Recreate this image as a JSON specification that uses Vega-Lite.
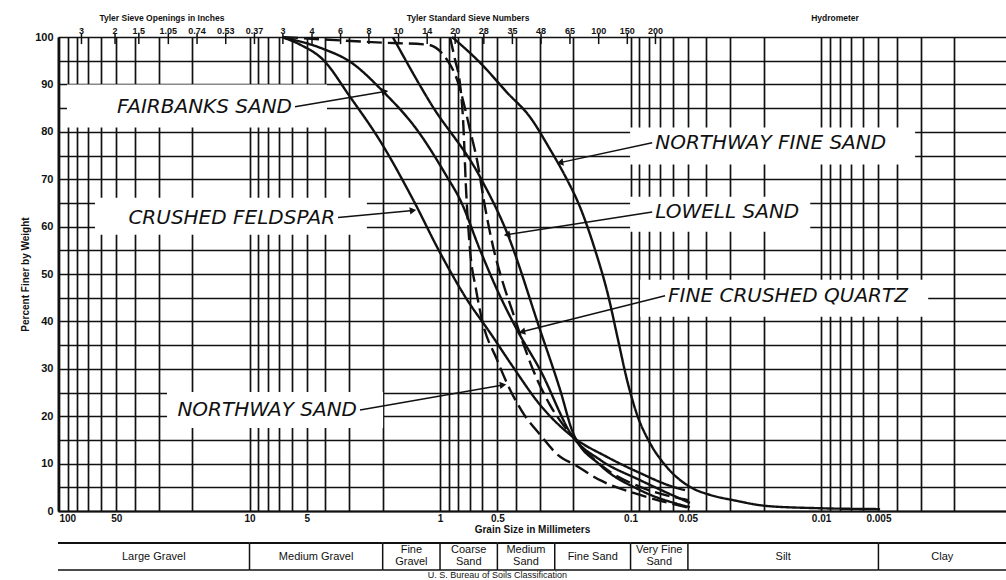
{
  "$schema": "https://vega.github.io/schema/vega-lite/v6.json",
  "width": 948,
  "height": 474,
  "autosize": {"type": "none"},
  "padding": {"left": 58, "top": 37, "right": 0, "bottom": 69},
  "background": "white",
  "config": {"view": {"stroke": null}, "font": "Liberation Sans"},
  "resolve": {"scale": {"x": "shared", "y": "shared"}, "axis": {"x": "independent", "y": "independent"}},
  "datasets": {
    "curves": [
      {"material": "Crushed Feldspar", "style": "solid", "mm": 6.67, "pct": 99.9},
      {"material": "Crushed Feldspar", "style": "solid", "mm": 5.43, "pct": 98.4},
      {"material": "Crushed Feldspar", "style": "solid", "mm": 4.11, "pct": 95.2},
      {"material": "Crushed Feldspar", "style": "solid", "mm": 2.97, "pct": 87.4},
      {"material": "Crushed Feldspar", "style": "solid", "mm": 2.065, "pct": 78.1},
      {"material": "Crushed Feldspar", "style": "solid", "mm": 1.386, "pct": 65.7},
      {"material": "Crushed Feldspar", "style": "solid", "mm": 1.0, "pct": 54.5},
      {"material": "Crushed Feldspar", "style": "solid", "mm": 0.722, "pct": 44.6},
      {"material": "Crushed Feldspar", "style": "solid", "mm": 0.546, "pct": 37.6},
      {"material": "Crushed Feldspar", "style": "solid", "mm": 0.414, "pct": 30.4},
      {"material": "Crushed Feldspar", "style": "solid", "mm": 0.2985, "pct": 22.4},
      {"material": "Crushed Feldspar", "style": "solid", "mm": 0.2004, "pct": 15.6},
      {"material": "Crushed Feldspar", "style": "solid", "mm": 0.1328, "pct": 11.4},
      {"material": "Crushed Feldspar", "style": "solid", "mm": 0.0891, "pct": 8.0},
      {"material": "Crushed Feldspar", "style": "solid", "mm": 0.0598, "pct": 5.1},
      {"material": "Crushed Feldspar", "style": "solid", "mm": 0.0518, "pct": 4.4},

      {"material": "Fairbanks Sand", "style": "solid", "mm": 6.67, "pct": 99.9},
      {"material": "Fairbanks Sand", "style": "solid", "mm": 4.11, "pct": 97.5},
      {"material": "Fairbanks Sand", "style": "solid", "mm": 2.97, "pct": 94.8},
      {"material": "Fairbanks Sand", "style": "solid", "mm": 1.99, "pct": 88.5},
      {"material": "Fairbanks Sand", "style": "solid", "mm": 1.32, "pct": 80.4},
      {"material": "Fairbanks Sand", "style": "solid", "mm": 0.919, "pct": 70.5},
      {"material": "Fairbanks Sand", "style": "solid", "mm": 0.785, "pct": 65.7},
      {"material": "Fairbanks Sand", "style": "solid", "mm": 0.617, "pct": 55.1},
      {"material": "Fairbanks Sand", "style": "solid", "mm": 0.502, "pct": 46.7},
      {"material": "Fairbanks Sand", "style": "solid", "mm": 0.394, "pct": 38.2},
      {"material": "Fairbanks Sand", "style": "solid", "mm": 0.2985, "pct": 29.8},
      {"material": "Fairbanks Sand", "style": "solid", "mm": 0.2004, "pct": 15.6},
      {"material": "Fairbanks Sand", "style": "solid", "mm": 0.1445, "pct": 10.8},
      {"material": "Fairbanks Sand", "style": "solid", "mm": 0.0891, "pct": 6.5},
      {"material": "Fairbanks Sand", "style": "solid", "mm": 0.0488, "pct": 1.7},

      {"material": "Lowell Sand", "style": "solid", "mm": 1.765, "pct": 99.9},
      {"material": "Lowell Sand", "style": "solid", "mm": 1.128, "pct": 86.2},
      {"material": "Lowell Sand", "style": "solid", "mm": 0.617, "pct": 70.5},
      {"material": "Lowell Sand", "style": "solid", "mm": 0.445, "pct": 58.7},
      {"material": "Lowell Sand", "style": "solid", "mm": 0.2985, "pct": 38.2},
      {"material": "Lowell Sand", "style": "solid", "mm": 0.2344, "pct": 25.6},
      {"material": "Lowell Sand", "style": "solid", "mm": 0.2004, "pct": 16.5},
      {"material": "Lowell Sand", "style": "solid", "mm": 0.1445, "pct": 9.7},
      {"material": "Lowell Sand", "style": "solid", "mm": 0.0891, "pct": 4.4},
      {"material": "Lowell Sand", "style": "solid", "mm": 0.0488, "pct": 0.8},

      {"material": "Northway Fine Sand", "style": "solid", "mm": 0.865, "pct": 100},
      {"material": "Northway Fine Sand", "style": "solid", "mm": 0.617, "pct": 94.6},
      {"material": "Northway Fine Sand", "style": "solid", "mm": 0.445, "pct": 88.3},
      {"material": "Northway Fine Sand", "style": "solid", "mm": 0.337, "pct": 83.1},
      {"material": "Northway Fine Sand", "style": "solid", "mm": 0.2646, "pct": 76.3},
      {"material": "Northway Fine Sand", "style": "solid", "mm": 0.2207, "pct": 70.7},
      {"material": "Northway Fine Sand", "style": "solid", "mm": 0.1841, "pct": 64.1},
      {"material": "Northway Fine Sand", "style": "solid", "mm": 0.1536, "pct": 55.1},
      {"material": "Northway Fine Sand", "style": "solid", "mm": 0.1313, "pct": 45.6},
      {"material": "Northway Fine Sand", "style": "solid", "mm": 0.1163, "pct": 36.1},
      {"material": "Northway Fine Sand", "style": "solid", "mm": 0.1043, "pct": 27.6},
      {"material": "Northway Fine Sand", "style": "solid", "mm": 0.0924, "pct": 20.3},
      {"material": "Northway Fine Sand", "style": "solid", "mm": 0.079, "pct": 14.3},
      {"material": "Northway Fine Sand", "style": "solid", "mm": 0.0659, "pct": 9.7},
      {"material": "Northway Fine Sand", "style": "solid", "mm": 0.0488, "pct": 5.1},
      {"material": "Northway Fine Sand", "style": "solid", "mm": 0.0383, "pct": 3.4},
      {"material": "Northway Fine Sand", "style": "solid", "mm": 0.029, "pct": 2.3},
      {"material": "Northway Fine Sand", "style": "solid", "mm": 0.0192, "pct": 1.05},
      {"material": "Northway Fine Sand", "style": "solid", "mm": 0.0105, "pct": 0.6},
      {"material": "Northway Fine Sand", "style": "solid", "mm": 0.0049, "pct": 0.4},

      {"material": "Fine Crushed Quartz", "style": "dashed", "mm": 6.67, "pct": 100},
      {"material": "Fine Crushed Quartz", "style": "dashed", "mm": 1.99, "pct": 98.8},
      {"material": "Fine Crushed Quartz", "style": "dashed", "mm": 1.17, "pct": 98.4},
      {"material": "Fine Crushed Quartz", "style": "dashed", "mm": 0.919, "pct": 95.2},
      {"material": "Fine Crushed Quartz", "style": "dashed", "mm": 0.814, "pct": 91.0},
      {"material": "Fine Crushed Quartz", "style": "dashed", "mm": 0.766, "pct": 87.4},
      {"material": "Fine Crushed Quartz", "style": "dashed", "mm": 0.696, "pct": 80.4},
      {"material": "Fine Crushed Quartz", "style": "dashed", "mm": 0.64, "pct": 74.1},
      {"material": "Fine Crushed Quartz", "style": "dashed", "mm": 0.581, "pct": 64.2},
      {"material": "Fine Crushed Quartz", "style": "dashed", "mm": 0.527, "pct": 55.8},
      {"material": "Fine Crushed Quartz", "style": "dashed", "mm": 0.473, "pct": 48.8},
      {"material": "Fine Crushed Quartz", "style": "dashed", "mm": 0.414, "pct": 41.8},
      {"material": "Fine Crushed Quartz", "style": "dashed", "mm": 0.367, "pct": 35.5},
      {"material": "Fine Crushed Quartz", "style": "dashed", "mm": 0.325, "pct": 29.8},
      {"material": "Fine Crushed Quartz", "style": "dashed", "mm": 0.265, "pct": 22.4},
      {"material": "Fine Crushed Quartz", "style": "dashed", "mm": 0.2004, "pct": 15.6},
      {"material": "Fine Crushed Quartz", "style": "dashed", "mm": 0.1328, "pct": 8.7},
      {"material": "Fine Crushed Quartz", "style": "dashed", "mm": 0.0891, "pct": 5.1},
      {"material": "Fine Crushed Quartz", "style": "dashed", "mm": 0.0499, "pct": 2.3},

      {"material": "Northway Sand", "style": "dashed", "mm": 0.886, "pct": 99.9},
      {"material": "Northway Sand", "style": "dashed", "mm": 0.834, "pct": 95.2},
      {"material": "Northway Sand", "style": "dashed", "mm": 0.785, "pct": 90.0},
      {"material": "Northway Sand", "style": "dashed", "mm": 0.757, "pct": 82.6},
      {"material": "Northway Sand", "style": "dashed", "mm": 0.73, "pct": 67.8},
      {"material": "Northway Sand", "style": "dashed", "mm": 0.696, "pct": 55.1},
      {"material": "Northway Sand", "style": "dashed", "mm": 0.647, "pct": 46.7},
      {"material": "Northway Sand", "style": "dashed", "mm": 0.602, "pct": 40.3},
      {"material": "Northway Sand", "style": "dashed", "mm": 0.502, "pct": 31.9},
      {"material": "Northway Sand", "style": "dashed", "mm": 0.429, "pct": 25.6},
      {"material": "Northway Sand", "style": "dashed", "mm": 0.367, "pct": 20.7},
      {"material": "Northway Sand", "style": "dashed", "mm": 0.2985, "pct": 16.1},
      {"material": "Northway Sand", "style": "dashed", "mm": 0.24, "pct": 11.8},
      {"material": "Northway Sand", "style": "dashed", "mm": 0.1955, "pct": 9.7},
      {"material": "Northway Sand", "style": "dashed", "mm": 0.1445, "pct": 6.5},
      {"material": "Northway Sand", "style": "dashed", "mm": 0.0891, "pct": 3.4},
      {"material": "Northway Sand", "style": "dashed", "mm": 0.0488, "pct": 0.6}
    ],
    "boxes": [
      {"label": "FAIRBANKS SAND", "x1": 90.8, "x2": 3.92, "y1": 90.0, "y2": 80.9},
      {"label": "CRUSHED FELDSPAR", "x1": 64.7, "x2": 2.42, "y1": 66.1, "y2": 58.3},
      {"label": "NORTHWAY SAND", "x1": 27.1, "x2": 1.99, "y1": 25.1, "y2": 17.5},
      {"label": "NORTHWAY FINE SAND", "x1": 0.1006, "x2": 0.00321, "y1": 80.9, "y2": 73.1},
      {"label": "LOWELL SAND", "x1": 0.1006, "x2": 0.0114, "y1": 66.3, "y2": 58.9},
      {"label": "FINE CRUSHED QUARTZ", "x1": 0.0891, "x2": 0.00274, "y1": 48.8, "y2": 41.0}
    ],
    "arrows": [
      {"label": "FAIRBANKS SAND", "side": "left", "tailMm": 5.77, "tailPct": 85.3, "tipMm": 1.945, "tipPct": 88.5},
      {"label": "CRUSHED FELDSPAR", "side": "left", "tailMm": 3.43, "tailPct": 61.9, "tipMm": 1.386, "tipPct": 63.4},
      {"label": "NORTHWAY SAND", "side": "left", "tailMm": 2.63, "tailPct": 21.3, "tipMm": 0.467, "tipPct": 26.6},
      {"label": "NORTHWAY FINE SAND", "side": "right", "tailMm": 0.077, "tailPct": 77.7, "tipMm": 0.2344, "tipPct": 73.5},
      {"label": "LOWELL SAND", "side": "right", "tailMm": 0.077, "tailPct": 63.1, "tipMm": 0.445, "tipPct": 58.3},
      {"label": "FINE CRUSHED QUARTZ", "side": "right", "tailMm": 0.0659, "tailPct": 45.4, "tipMm": 0.3715, "tipPct": 37.8}
    ],
    "sieves": [
      {"mm": 76.2, "label": "3"}, {"mm": 50.8, "label": "2"}, {"mm": 38.1, "label": "1.5"},
      {"mm": 26.67, "label": "1.05"}, {"mm": 18.85, "label": "0.74"}, {"mm": 13.33, "label": "0.53"},
      {"mm": 9.42, "label": "0.37"}, {"mm": 6.68, "label": "3"}, {"mm": 4.699, "label": "4"},
      {"mm": 3.327, "label": "6"}, {"mm": 2.362, "label": "8"}, {"mm": 1.651, "label": "10"},
      {"mm": 1.168, "label": "14"}, {"mm": 0.833, "label": "20"}, {"mm": 0.589, "label": "28"},
      {"mm": 0.417, "label": "35"}, {"mm": 0.295, "label": "48"}, {"mm": 0.208, "label": "65"},
      {"mm": 0.147, "label": "100"}, {"mm": 0.104, "label": "150"}, {"mm": 0.074, "label": "200"}
    ],
    "headings": [
      {"text": "Tyler Sieve Openings in Inches", "mm": 28.8},
      {"text": "Tyler Standard Sieve Numbers", "mm": 0.713},
      {"text": "Hydrometer", "mm": 0.00845}
    ],
    "classes": [
      {"cls": "Large Gravel", "from": 101.2, "to": 10, "mid": 31.8},
      {"cls": "Medium Gravel", "from": 10, "to": 2, "mid": 4.47},
      {"cls": "Fine\nGravel", "from": 2, "to": 1, "mid": 1.414},
      {"cls": "Coarse\nSand", "from": 1, "to": 0.5, "mid": 0.707},
      {"cls": "Medium\nSand", "from": 0.5, "to": 0.25, "mid": 0.354},
      {"cls": "Fine Sand", "from": 0.25, "to": 0.1, "mid": 0.158},
      {"cls": "Very Fine\nSand", "from": 0.1, "to": 0.05, "mid": 0.0707},
      {"cls": "Silt", "from": 0.05, "to": 0.005, "mid": 0.0158},
      {"cls": "Clay", "from": 0.005, "to": 0.00107, "mid": 0.00231}
    ]
  },
  "layer": [
    {
      "data": {"name": "boxes"},
      "mark": {"type": "rect", "fill": "white"},
      "encoding": {
        "x": {"field": "x1", "type": "quantitative",
          "scale": {"type": "log", "domain": [0.00107, 101.2], "reverse": true, "nice": false},
          "axis": {
            "values": [100, 90, 80, 70, 60, 50, 40, 30, 20, 10, 9, 8, 7, 6, 5, 4, 3, 2, 1, 0.9, 0.8, 0.7, 0.6, 0.5, 0.4, 0.3, 0.2, 0.1, 0.09, 0.08, 0.07, 0.06, 0.05, 0.04, 0.03, 0.02, 0.01, 0.009, 0.008, 0.007, 0.006, 0.005, 0.004, 0.003, 0.002],
            "labelExpr": "indexof([100, 50, 10, 5, 1, 0.5, 0.1, 0.05, 0.01, 0.005], datum.value) >= 0 ? format(datum.value, '~g') : ''",
            "grid": true, "gridColor": "#111", "gridWidth": 1.7,
            "ticks": false, "domainColor": "#111", "domainWidth": 2,
            "labelFont": "Liberation Sans", "labelFontSize": 10, "labelFontWeight": "bold", "labelColor": "#111",
            "labelPadding": 2, "labelOverlap": false, "labelFlush": 3,
            "title": "Grain Size in Millimeters", "titleFont": "Liberation Sans", "titleFontSize": 10,
            "titleFontWeight": "bold", "titleColor": "#111", "titlePadding": 1
          }
        },
        "x2": {"field": "x2"},
        "y": {"field": "y1", "type": "quantitative",
          "scale": {"domain": [0, 100], "nice": false, "zero": false},
          "axis": {
            "values": [0, 5, 10, 15, 20, 25, 30, 35, 40, 45, 50, 55, 60, 65, 70, 75, 80, 85, 90, 95, 100],
            "labelExpr": "datum.value % 10 === 0 ? datum.label : ''",
            "grid": true, "gridColor": "#111", "gridWidth": 1.7,
            "ticks": false, "domainColor": "#111", "domainWidth": 2,
            "labelFont": "Liberation Sans", "labelFontSize": 11, "labelFontWeight": "bold", "labelColor": "#111",
            "labelPadding": 5, "labelOverlap": false,
            "title": "Percent Finer by Weight", "titleFont": "Liberation Sans", "titleFontSize": 10,
            "titleFontWeight": "bold", "titleColor": "#111", "titlePadding": 4
          }
        },
        "y2": {"field": "y2"}
      }
    },
    {
      "data": {"name": "classes"},
      "mark": {"type": "rule", "color": "#111", "strokeWidth": 2},
      "encoding": {
        "x": {"field": "from", "type": "quantitative", "scale": {"type": "log", "domain": [0.00107, 101.2], "reverse": true, "nice": false}, "axis": null},
        "x2": {"field": "to"},
        "y": {"datum": -6.75, "type": "quantitative", "scale": {"domain": [0, 100], "nice": false, "zero": false}, "axis": null}
      }
    },
    {
      "data": {"name": "classes"},
      "mark": {"type": "rule", "color": "#111", "strokeWidth": 1.5},
      "encoding": {
        "x": {"field": "from", "type": "quantitative", "scale": {"type": "log", "domain": [0.00107, 101.2], "reverse": true, "nice": false}, "axis": null},
        "x2": {"field": "to"},
        "y": {"datum": -12.45, "type": "quantitative", "scale": {"domain": [0, 100], "nice": false, "zero": false}, "axis": null}
      }
    },
    {
      "data": {"name": "classes"},
      "transform": [{"filter": "datum.to > 0.002"}],
      "mark": {"type": "rule", "color": "#111", "strokeWidth": 1.5},
      "encoding": {
        "x": {"field": "to", "type": "quantitative", "scale": {"type": "log", "domain": [0.00107, 101.2], "reverse": true, "nice": false}, "axis": null},
        "y": {"datum": -6.75, "type": "quantitative", "scale": {"domain": [0, 100], "nice": false, "zero": false}, "axis": null},
        "y2": {"datum": -12.45}
      }
    },
    {
      "data": {"name": "classes"},
      "transform": [{"filter": "indexof(datum.cls, '\\n') < 0"}],
      "mark": {"type": "text", "font": "Liberation Sans", "fontSize": 11, "color": "#111", "baseline": "middle", "align": "center"},
      "encoding": {
        "x": {"field": "mid", "type": "quantitative", "scale": {"type": "log", "domain": [0.00107, 101.2], "reverse": true, "nice": false}, "axis": null},
        "y": {"datum": -9.6, "type": "quantitative", "scale": {"domain": [0, 100], "nice": false, "zero": false}, "axis": null},
        "text": {"field": "cls"}
      }
    },
    {
      "data": {"name": "classes"},
      "transform": [{"filter": "indexof(datum.cls, '\\n') >= 0"}],
      "mark": {"type": "text", "font": "Liberation Sans", "fontSize": 11, "color": "#111", "baseline": "middle", "align": "center", "lineBreak": "\n", "lineHeight": 12},
      "encoding": {
        "x": {"field": "mid", "type": "quantitative", "scale": {"type": "log", "domain": [0.00107, 101.2], "reverse": true, "nice": false}, "axis": null},
        "y": {"datum": -8.3, "type": "quantitative", "scale": {"domain": [0, 100], "nice": false, "zero": false}, "axis": null},
        "text": {"field": "cls"}
      }
    },
    {
      "data": {"values": [{"note": "U. S. Bureau of Soils Classification", "mm": 0.5}]},
      "mark": {"type": "text", "font": "Liberation Sans", "fontSize": 9, "color": "#111", "baseline": "middle", "align": "center"},
      "encoding": {
        "x": {"field": "mm", "type": "quantitative", "scale": {"type": "log", "domain": [0.00107, 101.2], "reverse": true, "nice": false}, "axis": null},
        "y": {"datum": -13.6, "type": "quantitative", "scale": {"domain": [0, 100], "nice": false, "zero": false}, "axis": null},
        "text": {"field": "note"}
      }
    },
    {
      "data": {"name": "sieves"},
      "mark": {"type": "rule", "color": "#111", "strokeWidth": 1.5},
      "encoding": {
        "x": {"field": "mm", "type": "quantitative", "scale": {"type": "log", "domain": [0.00107, 101.2], "reverse": true, "nice": false}, "axis": null},
        "y": {"datum": 100.8, "type": "quantitative", "scale": {"domain": [0, 100], "nice": false, "zero": false}, "axis": null},
        "y2": {"datum": 98.5}
      }
    },
    {
      "data": {"name": "sieves"},
      "mark": {"type": "text", "font": "Liberation Sans", "fontSize": 9, "fontWeight": "bold", "color": "#111", "baseline": "middle", "align": "center"},
      "encoding": {
        "x": {"field": "mm", "type": "quantitative", "scale": {"type": "log", "domain": [0.00107, 101.2], "reverse": true, "nice": false}, "axis": null},
        "y": {"datum": 101.3, "type": "quantitative", "scale": {"domain": [0, 100], "nice": false, "zero": false}, "axis": null},
        "text": {"field": "label"}
      }
    },
    {
      "data": {"name": "headings"},
      "mark": {"type": "text", "font": "Liberation Sans", "fontSize": 8.5, "fontWeight": "bold", "color": "#111", "baseline": "middle", "align": "center"},
      "encoding": {
        "x": {"field": "mm", "type": "quantitative", "scale": {"type": "log", "domain": [0.00107, 101.2], "reverse": true, "nice": false}, "axis": null},
        "y": {"datum": 104.0, "type": "quantitative", "scale": {"domain": [0, 100], "nice": false, "zero": false}, "axis": null},
        "text": {"field": "text"}
      }
    },
    {
      "data": {"name": "curves"},
      "mark": {"type": "line", "color": "#111", "strokeWidth": 2.4, "interpolate": "monotone"},
      "encoding": {
        "x": {"field": "mm", "type": "quantitative", "scale": {"type": "log", "domain": [0.00107, 101.2], "reverse": true, "nice": false}, "axis": null},
        "y": {"field": "pct", "type": "quantitative", "scale": {"domain": [0, 100], "nice": false, "zero": false}, "axis": null},
        "order": {"field": "mm", "sort": "descending"},
        "detail": {"field": "material"},
        "strokeDash": {"field": "style", "type": "nominal", "scale": {"domain": ["solid", "dashed"], "range": [[1, 0], [15, 6]]}, "legend": null}
      }
    },
    {
      "data": {"name": "arrows"},
      "mark": {"type": "rule", "color": "#111", "strokeWidth": 1.5},
      "encoding": {
        "x": {"field": "tailMm", "type": "quantitative", "scale": {"type": "log", "domain": [0.00107, 101.2], "reverse": true, "nice": false}, "axis": null},
        "x2": {"field": "tipMm"},
        "y": {"field": "tailPct", "type": "quantitative", "scale": {"domain": [0, 100], "nice": false, "zero": false}, "axis": null},
        "y2": {"field": "tipPct"}
      }
    },
    {
      "data": {"name": "arrows"},
      "transform": [{"filter": "datum.side === 'left'"}],
      "mark": {"type": "point", "shape": "triangle-right", "filled": true, "color": "#111", "size": 55, "angle": -8, "opacity": 1},
      "encoding": {
        "x": {"field": "tipMm", "type": "quantitative", "scale": {"type": "log", "domain": [0.00107, 101.2], "reverse": true, "nice": false}, "axis": null},
        "y": {"field": "tipPct", "type": "quantitative", "scale": {"domain": [0, 100], "nice": false, "zero": false}, "axis": null}
      }
    },
    {
      "data": {"name": "arrows"},
      "transform": [{"filter": "datum.side === 'right'"}],
      "mark": {"type": "point", "shape": "triangle-left", "filled": true, "color": "#111", "size": 55, "angle": -11, "opacity": 1},
      "encoding": {
        "x": {"field": "tipMm", "type": "quantitative", "scale": {"type": "log", "domain": [0.00107, 101.2], "reverse": true, "nice": false}, "axis": null},
        "y": {"field": "tipPct", "type": "quantitative", "scale": {"domain": [0, 100], "nice": false, "zero": false}, "axis": null}
      }
    },
    {
      "data": {"name": "arrows"},
      "transform": [{"filter": "datum.side === 'left'"}],
      "mark": {"type": "text", "font": "DejaVu Sans", "fontSize": 20, "fontStyle": "italic", "color": "#111", "align": "right", "baseline": "middle", "dx": -3},
      "encoding": {
        "x": {"field": "tailMm", "type": "quantitative", "scale": {"type": "log", "domain": [0.00107, 101.2], "reverse": true, "nice": false}, "axis": null},
        "y": {"field": "tailPct", "type": "quantitative", "scale": {"domain": [0, 100], "nice": false, "zero": false}, "axis": null},
        "text": {"field": "label"}
      }
    },
    {
      "data": {"name": "arrows"},
      "transform": [{"filter": "datum.side === 'right'"}],
      "mark": {"type": "text", "font": "DejaVu Sans", "fontSize": 20, "fontStyle": "italic", "color": "#111", "align": "left", "baseline": "middle", "dx": 3},
      "encoding": {
        "x": {"field": "tailMm", "type": "quantitative", "scale": {"type": "log", "domain": [0.00107, 101.2], "reverse": true, "nice": false}, "axis": null},
        "y": {"field": "tailPct", "type": "quantitative", "scale": {"domain": [0, 100], "nice": false, "zero": false}, "axis": null},
        "text": {"field": "label"}
      }
    }
  ]
}
